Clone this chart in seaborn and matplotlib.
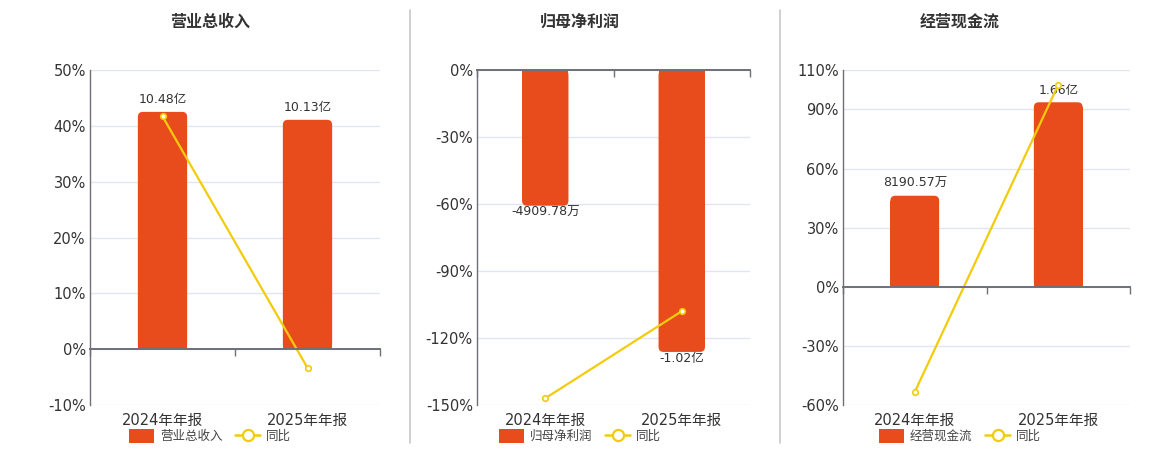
import numpy as np
import pandas as pd
import matplotlib
matplotlib.use("Agg")
import matplotlib.pyplot as plt
import seaborn as sns
from matplotlib.patches import FancyBboxPatch, Patch
from matplotlib.lines import Line2D
from matplotlib.ticker import FuncFormatter, FixedLocator

# ---------------- data ----------------
periods = ["2024年年报", "2025年年报"]

rev_title = "营业总收入"
rev_values = [10.48, 10.13]            # 亿
rev_labels = ["10.48亿", "10.13亿"]
rev_yoy = [41.7, -3.35]                # %
rev_ticks = [-10, 0, 10, 20, 30, 40, 50]

np_title = "归母净利润"
np_values = [-0.490978, -1.02]         # 亿
np_labels = ["-4909.78万", "-1.02亿"]
np_yoy = [-147.0, -108.0]
np_ticks = [-150, -120, -90, -60, -30, 0]

cf_title = "经营现金流"
cf_values = [0.819057, 1.66]           # 亿
cf_labels = ["8190.57万", "1.66亿"]
cf_yoy = [-53.4, 102.5]
cf_ticks = [-60, -30, 0, 30, 60, 90, 110]

# ---------------- style ----------------
sns.set_theme(style="white")
plt.rcParams["font.family"] = ["DejaVu Sans", "Noto Sans CJK SC"]

BAR = "#E84C1C"
LINE = "#F2CC0C"
AXC = "#6E7079"
GRID = "#E0E6F1"
TXT = "#333333"

W, H = 1160, 450
fig = plt.figure(figsize=(W / 100, H / 100), dpi=100)

panels = [
    # title, values, labels, yoy, ticks, bar scale (亿 per %), plot px (left,right), centre px
    (rev_title, rev_values, rev_labels, rev_yoy, rev_ticks, 0.2466, (90, 380), 210),
    (np_title, np_values, np_labels, np_yoy, np_ticks, 0.00808, (477, 750), 580),
    (cf_title, cf_values, cf_labels, cf_yoy, cf_ticks, 0.01773, (843, 1130), 960),
]

top_px, bot_px = 70, 405


def rounded_bars(ax, r_px, ax_w_px, ax_h_px):
    x0, x1 = ax.get_xlim()
    y0, y1 = ax.get_ylim()
    xpp = (x1 - x0) / ax_w_px
    ypp = (y1 - y0) / ax_h_px
    rx, ry = r_px * xpp, r_px * ypp
    for p in list(ax.patches):
        x, y, w, h = p.get_x(), p.get_y(), p.get_width(), p.get_height()
        s = 1 if h >= 0 else -1
        fb = FancyBboxPatch((x, min(y, y + h)), w, abs(h),
                            boxstyle=f"round,pad=0,rounding_size={rx}",
                            mutation_aspect=ry / rx,
                            fc=p.get_facecolor(), ec="none", lw=0, zorder=p.get_zorder())
        p.set_height(h - s * ry)
        ax.add_patch(fb)


for title, vals, labs, yoy, ticks, k, (lpx, rpx), cpx in panels:
    rect = [lpx / W, 1 - bot_px / H, (rpx - lpx) / W, (bot_px - top_px) / H]
    ylo, yhi = min(ticks), max(ticks)

    # percent axis: grid + y tick labels
    ax_p = fig.add_axes(rect)
    ax_p.set_xlim(-0.5, 1.5)
    ax_p.set_ylim(ylo, yhi)
    ax_p.yaxis.set_major_locator(FixedLocator(ticks))
    ax_p.yaxis.set_major_formatter(FuncFormatter(lambda v, pos: f"{int(round(v))}%"))
    ax_p.tick_params(axis="y", length=0, pad=3, labelsize=10.5, labelcolor=TXT)
    ax_p.set_xticks([])
    ax_p.grid(axis="y", color=GRID, lw=1)
    for sp in ["top", "right", "bottom"]:
        ax_p.spines[sp].set_visible(False)
    ax_p.spines["left"].set_color(AXC)
    ax_p.spines["left"].set_linewidth(1)
    ax_p.set_facecolor("none")

    # bar axis
    ax_b = fig.add_axes(rect)
    ax_b.patch.set_visible(False)
    df = pd.DataFrame({"period": periods, "value": vals})
    sns.barplot(data=df, x="period", y="value", ax=ax_b, color=BAR,
                saturation=1, width=0.34, linewidth=0)
    ax_b.set_xlim(-0.5, 1.5)
    ax_b.set_ylim(ylo * k, yhi * k)
    ax_b.set_yticks([])
    ax_b.set_xlabel("")
    ax_b.set_ylabel("")
    for sp in ax_b.spines.values():
        sp.set_visible(False)
    ax_b.tick_params(axis="x", length=0, pad=6, labelsize=10.5, labelcolor=TXT)
    rounded_bars(ax_b, 5, rpx - lpx, bot_px - top_px)
    for i, (v, lab) in enumerate(zip(vals, labs)):
        if v >= 0:
            ax_b.annotate(lab, (i, v), xytext=(0, 4), textcoords="offset points",
                          ha="center", va="bottom", fontsize=9, color=TXT)
        else:
            ax_b.annotate(lab, (i, v), xytext=(0, 0), textcoords="offset points",
                          ha="center", va="top", fontsize=9, color=TXT)

    # line axis (with zero axis line)
    ax_l = fig.add_axes(rect)
    ax_l.patch.set_visible(False)
    sns.pointplot(x=periods, y=yoy, ax=ax_l, color=LINE, markers="o",
                  linestyles="-", markersize=4, linewidth=1.6)
    for ln in ax_l.lines:
        ln.set_markerfacecolor("white")
        ln.set_markeredgecolor(LINE)
        ln.set_markeredgewidth(1.2)
    ax_l.set_xlim(-0.5, 1.5)
    ax_l.set_ylim(ylo, yhi)
    ax_l.set_yticks([])
    ax_l.set_xlabel("")
    ax_l.set_ylabel("")
    for sp in ["top", "right", "left"]:
        ax_l.spines[sp].set_visible(False)
    ax_l.spines["bottom"].set_position(("data", 0))
    ax_l.spines["bottom"].set_color(AXC)
    ax_l.spines["bottom"].set_linewidth(1.4)
    ax_l.xaxis.set_major_locator(FixedLocator([-0.5, 0.5, 1.5]))
    ax_l.tick_params(axis="x", length=5, width=1, color=AXC, direction="out",
                     labelbottom=False, bottom=True)

    # title
    fig.text(cpx / W, 1 - 22 / H, title, ha="center", va="center",
             fontsize=11.5, fontweight="bold", color=TXT)

    # legend
    handles = [
        Patch(facecolor=BAR, edgecolor="none", label=title),
        Line2D([], [], color=LINE, lw=1.8, marker="o", markersize=8,
               markerfacecolor="white", markeredgecolor=LINE, markeredgewidth=1.6, label="同比"),
    ]
    fig.legend(handles=handles, loc="center", bbox_to_anchor=(cpx / W, 1 - 436 / H),
               ncol=2, frameon=False, fontsize=9, handlelength=2.0, handleheight=1.35,
               columnspacing=1.0, handletextpad=0.5, labelcolor="#444444")

# panel separators
for xs in (410, 780):
    fig.add_artist(Line2D([xs / W, xs / W], [1 - 10 / H, 1 - 443 / H], color="#C8C8C8", lw=1.2))

fig.savefig("out.png", dpi=100, facecolor="white")
